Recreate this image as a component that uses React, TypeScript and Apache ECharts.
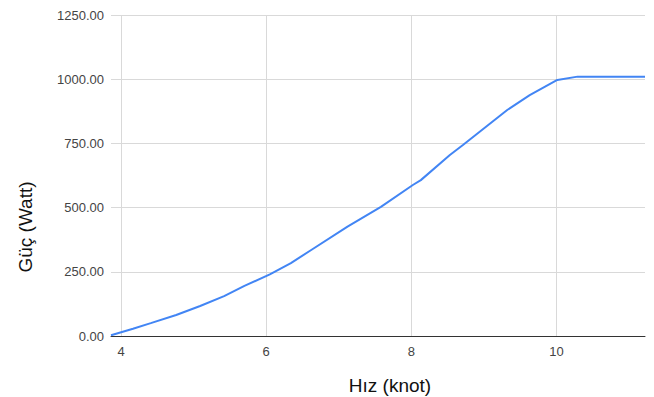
import React, { useEffect, useRef } from "react";
import * as echarts from "echarts";

// Speed (knots) and power output (W)
const speedKnots = [3.862, 4.165, 4.41, 4.76, 5.09, 5.42, 5.7, 6.05, 6.34, 6.62, 7.12, 7.58, 8.02, 8.13, 8.53, 8.71, 9.32, 9.63, 10.01, 10.29, 11.218];
const powerWatts = [3, 28, 50, 82, 117, 155, 195, 240, 284, 335, 426, 503, 588, 607, 705, 744, 880, 938, 997, 1010, 1010];

const xTicks = [4, 6, 8, 10];
const xRange = [3.862, 11.218];
const yRange = [0, 1250];
const yStep = 250;

const xTitle = "Hız (knot)";
const yTitle = "Güç (Watt)";

const FONT = "'Liberation Sans', Arial, sans-serif";

export default function App() {
  const ref = useRef<HTMLDivElement>(null);

  useEffect(() => {
    if (!ref.current) return;
    const chart = echarts.init(ref.current, null, { renderer: "svg" });
    chart.setOption({
      animation: false,
      backgroundColor: "#ffffff",
      textStyle: { fontFamily: FONT },
      grid: { left: 111, right: 9, top: 15, bottom: 61, containLabel: false },
      xAxis: {
        type: "value",
        min: xRange[0],
        max: xRange[1],
        axisLine: { show: true, onZero: false, lineStyle: { color: "#333333", width: 1 } },
        axisTick: { show: false },
        splitLine: { show: false },
        axisLabel: {
          customValues: xTicks,
          color: "#444444",
          fontSize: 13,
          fontFamily: FONT,
          margin: 9,
          formatter: (v: number) => String(v),
        },
      },
      yAxis: {
        type: "value",
        min: yRange[0],
        max: yRange[1],
        interval: yStep,
        axisLine: { show: false },
        axisTick: { show: false },
        splitLine: { show: true, lineStyle: { color: "#d9d9d9", width: 1 } },
        axisLabel: {
          color: "#444444",
          fontSize: 13,
          fontFamily: FONT,
          margin: 7,
          formatter: (v: number) => v.toFixed(2),
        },
      },
      series: [
        {
          type: "line",
          data: speedKnots.map((x, i) => [x, powerWatts[i]]),
          showSymbol: false,
          smooth: false,
          lineStyle: { color: "#4285f4", width: 2 },
          itemStyle: { color: "#4285f4" },
          z: 3,
          markLine: {
            silent: true,
            symbol: "none",
            label: { show: false },
            lineStyle: { color: "#d9d9d9", width: 1, type: "solid" },
            data: xTicks.map((t) => ({ xAxis: t })),
            z: 1,
          },
        },
      ],
      graphic: [
        {
          type: "text",
          x: 390,
          y: 385,
          style: {
            text: xTitle,
            font: `19px ${FONT}`,
            fill: "#111111",
            textAlign: "center",
            textVerticalAlign: "middle",
          },
        },
        {
          type: "text",
          x: 25,
          y: 227,
          rotation: Math.PI / 2,
          style: {
            text: yTitle,
            font: `19px ${FONT}`,
            fill: "#111111",
            textAlign: "center",
            textVerticalAlign: "middle",
          },
        },
      ],
    });
    return () => chart.dispose();
  }, []);

  return (
    <div
      ref={ref}
      style={{ position: "absolute", left: 0, top: 0, width: 654, height: 397 }}
    />
  );
}
